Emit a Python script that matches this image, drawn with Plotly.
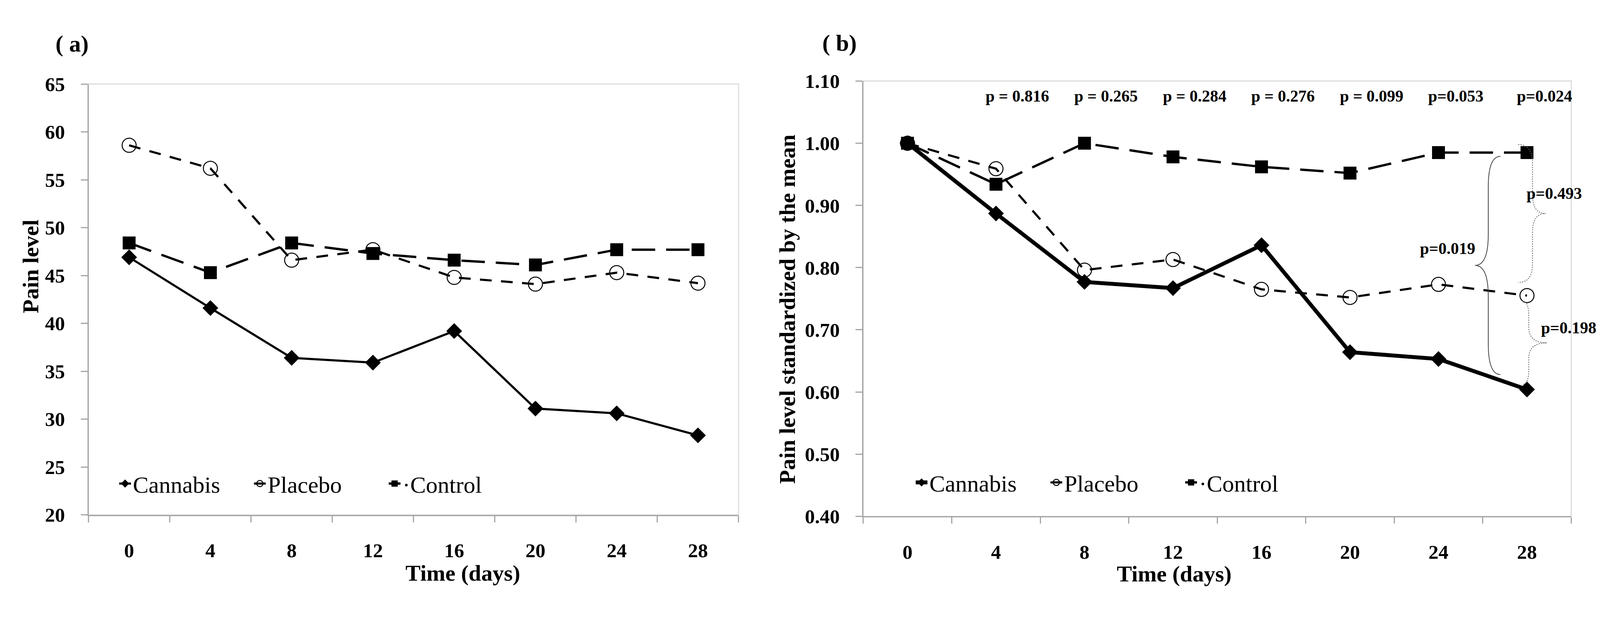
import plotly.graph_objects as go

# ---------------- data ----------------
days = [0, 4, 8, 12, 16, 20, 24, 28]
day_labels = ["0", "4", "8", "12", "16", "20", "24", "28"]

pain_cannabis = [46.9, 41.6, 36.4, 35.9, 39.2, 31.1, 30.6, 28.3]
pain_placebo = [58.6, 56.2, 46.6, 47.7, 44.8, 44.1, 45.3, 44.2]
pain_control = [48.4, 45.3, 48.4, 47.3, 46.6, 46.1, 47.7, 47.7]

std_cannabis = [1.000, 0.887, 0.777, 0.767, 0.836, 0.664, 0.653, 0.604]
std_placebo = [1.000, 0.959, 0.796, 0.813, 0.765, 0.752, 0.773, 0.755]
std_control = [1.000, 0.934, 1.000, 0.978, 0.962, 0.952, 0.985, 0.985]

series_names = ["Cannabis", "Placebo", "\u00b7Control"]

p_days = [4, 8, 12, 16, 20, 24, 28]
p_texts = ["p = 0.816", "p = 0.265", "p = 0.284", "p = 0.276",
           "p = 0.099", "p=0.053", "p=0.024"]
p_cann_ctrl = "p=0.019"
p_plac_ctrl = "p=0.493"
p_cann_plac = "p=0.198"

# ---------------- style ----------------
FONT = "Liberation Serif"
AX_COLOR = "#a6a6a6"
W, H = 4339, 1579   # reference canvas, used for fractional placement

fig = go.Figure()


def add_series(xa, ya, legend, cann, plac, ctrl, cann_w):
    fig.add_trace(go.Scatter(
        x=days, y=cann, name=series_names[0], mode="lines+markers",
        xaxis=xa, yaxis=ya, legend=legend,
        line=dict(color="black", width=cann_w),
        marker=dict(symbol="diamond", size=31, color="black")))
    fig.add_trace(go.Scatter(
        x=days, y=plac, name=series_names[1], mode="lines+markers",
        xaxis=xa, yaxis=ya, legend=legend,
        line=dict(color="black", width=5.5, dash="30px,24px"),
        marker=dict(symbol="circle-open", size=36, color="black",
                    line=dict(width=2.5, color="black"))))
    fig.add_trace(go.Scatter(
        x=days, y=ctrl, name=series_names[2], mode="lines+markers",
        xaxis=xa, yaxis=ya, legend=legend,
        line=dict(color="black", width=6, dash="60px,28px"),
        marker=dict(symbol="square", size=33, color="black")))


add_series("x", "y", "legend", pain_cannabis, pain_placebo, pain_control, 5.5)
add_series("x2", "y2", "legend2", std_cannabis, std_placebo, std_control, 10)

tickfont = dict(family=FONT, size=51, color="black", weight="bold")


def xaxis_cfg(domain, anchor):
    return dict(
        domain=domain, anchor=anchor, range=[-2, 30],
        tickmode="array", tickvals=days, ticktext=day_labels,
        ticks="", showgrid=False, zeroline=False,
        showline=True, linecolor=AX_COLOR, linewidth=3,
        tickfont=tickfont, ticklabelstandoff=44,
        minor=dict(ticks="outside", ticklen=16, tickwidth=3,
                   tickcolor=AX_COLOR, tick0=-2, dtick=4, showgrid=False),
    )


def yaxis_cfg(domain, anchor, rng, dtick, fmt):
    return dict(
        domain=domain, anchor=anchor, range=rng, tick0=rng[0], dtick=dtick,
        tickformat=fmt, ticks="outside", ticklen=17, tickwidth=3,
        tickcolor=AX_COLOR, showgrid=False, zeroline=False,
        showline=True, linecolor=AX_COLOR, linewidth=3,
        tickfont=tickfont, ticklabelstandoff=30,
    )


legend_common = dict(orientation="h", xanchor="left", yanchor="middle",
                     font=dict(family=FONT, size=60, color="black"),
                     bgcolor="rgba(0,0,0,0)", itemwidth=30,
                     entrywidth=300, entrywidthmode="pixels")

fig.update_layout(
    autosize=True,
    margin=dict(l=0, r=0, t=0, b=0),
    paper_bgcolor="white", plot_bgcolor="white",
    font=dict(family=FONT, color="black"),
    xaxis=xaxis_cfg([240 / W, 2003 / W], "y"),
    yaxis=yaxis_cfg([1 - 1338 / H, 1 - 195 / H], "x", [20, 65], 5, "d"),
    xaxis2=xaxis_cfg([2341 / W, 4261 / W], "y2"),
    yaxis2=yaxis_cfg([1 - 1342 / H, 1 - 187 / H], "x2", [0.4, 1.1], 0.1, ".2f"),
    legend=dict(x=318 / W, y=1 - 1255 / H, **legend_common),
    legend2=dict(x=2478 / W, y=1 - 1252 / H, **legend_common),
    showlegend=True,
)

# light plot-area frame (top / right)
for xr, yr in (("x", "y"), ("x2", "y2")):
    fig.add_shape(type="rect", xref=f"{xr} domain", yref=f"{yr} domain",
                  x0=0, x1=1, y0=0, y1=1, layer="below",
                  line=dict(color="#dcdcdc", width=3))

# ---------------- annotations ----------------
title_font = dict(family=FONT, size=58, color="black", weight="bold")
ann = []
ann.append(dict(text="( a)", x=148 / W, y=1 - 52 / H, xref="paper", yref="paper",
                showarrow=False, font=dict(family=FONT, size=60, color="black", weight="bold")))
ann.append(dict(text="( b)", x=2277 / W, y=1 - 50 / H, xref="paper", yref="paper",
                showarrow=False, font=dict(family=FONT, size=60, color="black", weight="bold")))
ann.append(dict(text="Pain level", x=47 / W, y=1 - 679 / H, xref="paper", yref="paper",
                textangle=-90, showarrow=False, font=title_font))
ann.append(dict(text="Pain level standardized by the mean", x=2136 / W, y=1 - 792 / H,
                xref="paper", yref="paper", textangle=-90, showarrow=False, font=title_font))
ann.append(dict(text="Time (days)", x=1097 / W, y=1 - 1528 / H, xref="paper", yref="paper",
                showarrow=False, font=title_font))
ann.append(dict(text="Time (days)", x=3342 / W, y=1 - 1530 / H, xref="paper", yref="paper",
                showarrow=False, font=title_font))

pfont = dict(family=FONT, size=42, color="black", weight="bold")
for d, t in zip(p_days, p_texts):
    ann.append(dict(text=t, x=d - 0.5, y=1.076, xref="x2", yref="y2",
                    xanchor="left", yanchor="middle", showarrow=False, font=pfont))


def brace_path(x_end, x_body, x_tip, y_top, y_bot, d):
    ym = (y_top + y_bot) / 2
    return (f"M{x_end},{y_top} Q{x_body},{y_top} {x_body},{y_top - d} "
            f"L{x_body},{ym + d} Q{x_body},{ym} {x_tip},{ym} "
            f"Q{x_body},{ym} {x_body},{ym - d} L{x_body},{y_bot + d} "
            f"Q{x_body},{y_bot} {x_end},{y_bot}")


# big solid brace: cannabis vs control
b0_top, b0_bot = std_control[-1] - 0.006, std_cannabis[-1] + 0.024
fig.add_shape(type="path", xref="x2", yref="y2",
              path=brace_path(26.8, 26.25, 25.65, b0_top, b0_bot, 0.05),
              line=dict(color="#444444", width=2))
ann.append(dict(text=p_cann_ctrl, x=25.7, y=(b0_top + b0_bot) / 2 + 0.027,
                xref="x2", yref="y2", xanchor="right", yanchor="middle",
                showarrow=False, font=pfont))

# dotted brace: placebo vs control
b1_top, b1_bot = std_control[-1] + 0.013, std_placebo[-1] + 0.021
fig.add_shape(type="path", xref="x2", yref="y2",
              path=brace_path(27.6, 28.25, 28.85, b1_top, b1_bot, 0.03),
              line=dict(color="#666666", width=2, dash="dot"))
ann.append(dict(text=p_plac_ctrl, x=27.95, y=(b1_top + b1_bot) / 2 + 0.032,
                xref="x2", yref="y2", xanchor="left", yanchor="middle",
                showarrow=False, font=pfont))

# dotted brace: cannabis vs placebo
b2_top, b2_bot = std_placebo[-1] - 0.009, std_cannabis[-1] + 0.008
fig.add_shape(type="path", xref="x2", yref="y2",
              path=brace_path(27.8, 28.08, 28.9, b2_top, b2_bot, 0.025),
              line=dict(color="#666666", width=2, dash="dot"))
ann.append(dict(text=p_cann_plac, x=28.6, y=(b2_top + b2_bot) / 2 + 0.024,
                xref="x2", yref="y2", xanchor="left", yanchor="middle",
                showarrow=False, font=pfont))

fig.update_layout(annotations=ann)

fig.write_html(
    "out.html",
    default_width="100vw", default_height="100vh",
    config={"responsive": True, "displayModeBar": False},
    post_script=("document.documentElement.style.margin='0';"
                 "document.body.style.margin='0';"
                 "document.body.style.overflow='hidden';"
                 "window.dispatchEvent(new Event('resize'));"),
)
